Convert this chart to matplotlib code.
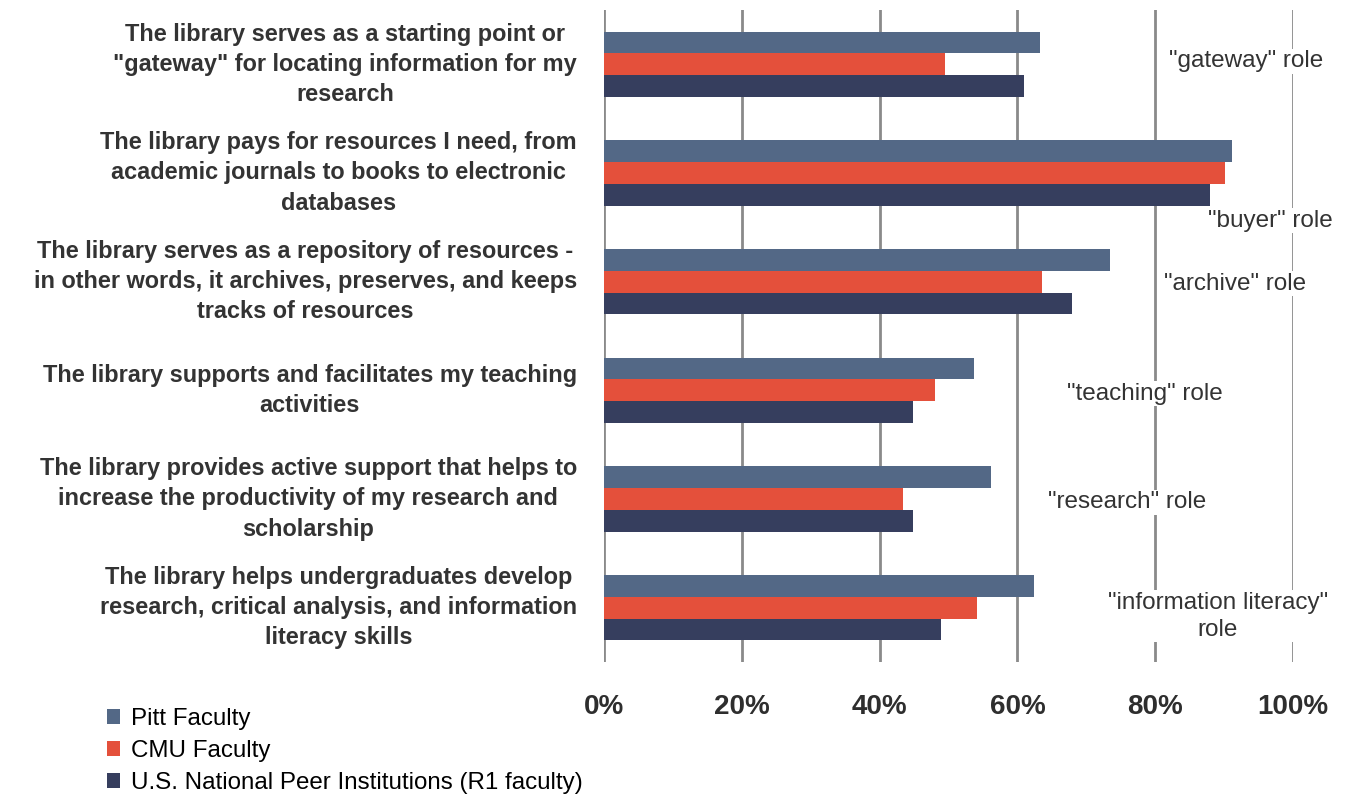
import numpy as np
import matplotlib.pyplot as plt
from matplotlib.patches import Patch

# survey statements (top to bottom)
statements = [
    'The library serves as a starting point or\n"gateway" for locating information for my\nresearch',
    'The library pays for resources I need, from\nacademic journals to books to electronic\ndatabases',
    'The library serves as a repository of resources -\nin other words, it archives, preserves, and keeps\ntracks of resources',
    'The library supports and facilitates my teaching\nactivities',
    'The library provides active support that helps to\nincrease the productivity of my research and\nscholarship',
    'The library helps undergraduates develop\nresearch, critical analysis, and information\nliteracy skills',
]
series_names = ['Pitt Faculty', 'CMU Faculty', 'U.S. National Peer Institutions (R1 faculty)']
pitt = [0.633, 0.911, 0.734, 0.537, 0.562, 0.624]
cmu = [0.495, 0.901, 0.636, 0.480, 0.434, 0.541]
peer = [0.610, 0.879, 0.679, 0.448, 0.448, 0.489]
roles = ['"gateway" role', '"buyer" role', '"archive" role', '"teaching" role',
         '"research" role', '"information literacy"\nrole']
tick_vals = [0, 0.2, 0.4, 0.6, 0.8, 1.0]
tick_labels = ['0%', '20%', '40%', '60%', '80%', '100%']

colors = ['#536886', '#e4503b', '#363e5e']
font = ['Liberation Sans', 'DejaVu Sans']

fig = plt.figure(figsize=(13.61, 7.98), dpi=100)
ax = fig.add_axes([604 / 1361, 1 - 662 / 798, 689 / 1361, 652 / 798])

y = np.arange(len(statements))
h = 0.2
for k, vals in enumerate([pitt, cmu, peer]):
    ax.barh(y + (k - 1) * h, vals, height=h, color=colors[k], zorder=3)

ax.set_xlim(0, 1)
ax.set_ylim(len(statements) - 0.5, -0.5)
for v in tick_vals:
    ax.axvline(v, color='#8a8a8a', lw=2, zorder=1)
for s in ax.spines.values():
    s.set_visible(False)
ax.set_yticks([])
ax.set_xticks(tick_vals)
ax.set_xticklabels(tick_labels, family=font, fontweight='bold', fontsize=20, color='#2e2e2e')
ax.tick_params(axis='x', length=0, pad=23)

for i, s in enumerate(statements):
    ax.annotate(s, xy=(0, i), xycoords=('axes fraction', 'data'), xytext=(-27, 0),
                textcoords='offset pixels', ha='right', va='center', multialignment='center',
                family=font, fontweight='bold', fontsize=16.9, color='#333333', linespacing=1.4)

# role annotations to the right of the bars
role_pos = [(0.932, -0.03), (0.967, 1.44), (0.916, 2.02), (0.785, 3.03), (0.759, 4.03), (0.891, 5.08)]
for r, (rx, ry) in zip(roles, role_pos):
    ax.text(rx, ry, r, ha='center', va='center', family=font, fontsize=17.5, color='#333333',
            linespacing=1.3, zorder=5, clip_on=False,
            bbox=dict(facecolor='white', edgecolor='none', pad=1))

handles = [Patch(facecolor=c, edgecolor='none') for c in colors]
fig.legend(handles, series_names, loc='upper left', bbox_to_anchor=(107 / 1361, 1 - 708 / 798),
           frameon=False, prop={'family': font, 'size': 17.4}, handlelength=0.55, handleheight=0.55,
           handletextpad=0.45, labelspacing=0.42, borderaxespad=0, borderpad=0)

fig.savefig('out.png', dpi=100)
